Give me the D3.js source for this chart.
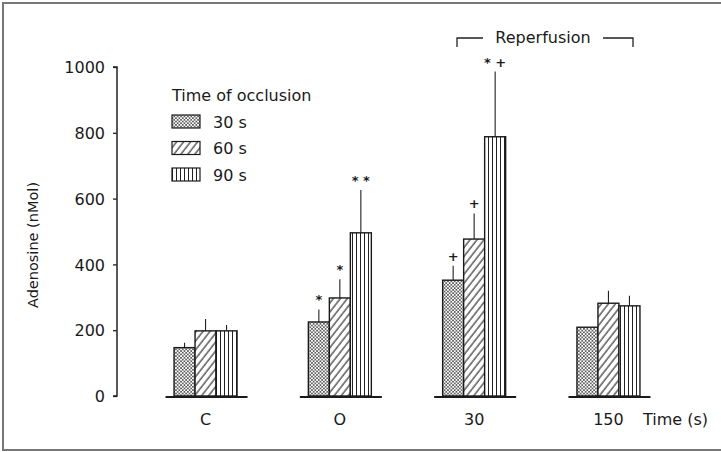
<!DOCTYPE html>
<html><head><meta charset="utf-8">
<script src="https://cdn.jsdelivr.net/npm/d3@7"></script>
<style>
html,body{margin:0;padding:0;background:#fff;}
svg{display:block;}
text{font-family:"DejaVu Sans",sans-serif;fill:#1a1a1a;}
</style></head>
<body>
<div id="chart"></div>
<script>
const categories = ["C", "O", "30", "150"];
const seriesNames = ["30 s", "60 s", "90 s"];
const values30 = [147, 225, 352, 209];
const values60 = [198, 298, 477, 282];
const values90 = [198, 496, 788, 274];
const err30 = [15, 38, 44, 0];
const err60 = [36, 57, 78, 38];
const err90 = [18, 130, 198, 31];
const marks30 = ["", "*", "+", ""];
const marks60 = ["", "*", "+", ""];
const marks90 = ["", "* *", "* +", ""];
const yTicks = [0, 200, 400, 600, 800, 1000];

const W = 721, H = 452;
const svg = d3.select("#chart").append("svg").attr("width", W).attr("height", H);
const defs = svg.append("defs");

// patterns
const pDots = defs.append("pattern").attr("id", "p0").attr("patternUnits", "userSpaceOnUse")
  .attr("width", 3.4).attr("height", 3.4);
pDots.append("rect").attr("width", 3.4).attr("height", 3.4).attr("fill", "#fff");
pDots.append("circle").attr("cx", 0.85).attr("cy", 0.85).attr("r", 0.85).attr("fill", "#2a2a2a");
pDots.append("circle").attr("cx", 2.55).attr("cy", 2.55).attr("r", 0.85).attr("fill", "#2a2a2a");

const pHatch = defs.append("pattern").attr("id", "p1").attr("patternUnits", "userSpaceOnUse")
  .attr("width", 5.5).attr("height", 10).attr("patternTransform", "rotate(38)");
pHatch.append("rect").attr("width", 5.5).attr("height", 10).attr("fill", "#fff");
pHatch.append("line").attr("x1", 1).attr("x2", 1).attr("y1", 0).attr("y2", 10)
  .attr("stroke", "#222").attr("stroke-width", 1.1);

const pVert = defs.append("pattern").attr("id", "p2").attr("patternUnits", "userSpaceOnUse")
  .attr("width", 4).attr("height", 10);
pVert.append("rect").attr("width", 4).attr("height", 10).attr("fill", "#fff");
pVert.append("line").attr("x1", 0.5).attr("x2", 0.5).attr("y1", 0).attr("y2", 10)
  .attr("stroke", "#222").attr("stroke-width", 1);

const fills = ["url(#p0)", "url(#p1)", "url(#p2)"];

// frame
svg.append("rect").attr("x", 3).attr("y", 3).attr("width", 730).attr("height", 447)
  .attr("fill", "none").attr("stroke", "#777").attr("stroke-width", 2);

// scales
const y = d3.scaleLinear().domain([0, 1000]).range([396, 67]);
const x = d3.scaleBand().domain(categories).range([138.4, 675.6]).padding(0);
const xi = d3.scaleBand().domain(seriesNames).range([0, 63]).padding(0);

// y axis
const yAxis = d3.axisLeft(y).tickValues(yTicks).tickSize(4).tickPadding(8).tickFormat(d3.format("d"));
const gy = svg.append("g").attr("transform", "translate(117,0)").call(yAxis);
gy.select(".domain").attr("stroke", "#222").attr("stroke-width", 1.5).attr("d", `M-4,${y(1000)}H0V${y(0)}H-4`);
gy.selectAll(".tick line").attr("stroke", "#222").attr("stroke-width", 1.3);
gy.selectAll(".tick text").attr("font-size", 16).attr("font-family", "DejaVu Sans").attr("fill", "#1a1a1a").attr("dy", "0.36em");

svg.append("text").attr("transform", `translate(38,245) rotate(-90)`).attr("text-anchor", "middle")
  .attr("font-size", 14.5).text("Adenosine (nMol)");

// data table
const data = [];
const vals = [values30, values60, values90], errs = [err30, err60, err90], marks = [marks30, marks60, marks90];
categories.forEach((c, i) => {
  seriesNames.forEach((s, j) => {
    data.push({cat: c, ser: s, j, v: vals[j][i], e: errs[j][i], m: marks[j][i]});
  });
});
const bx = d => x(d.cat) + x.bandwidth() / 2 - 31.5 + xi(d.ser);

// error bars
svg.append("g").selectAll("line").data(data.filter(d => d.e > 0)).join("line")
  .attr("x1", d => bx(d) + xi.bandwidth() / 2).attr("x2", d => bx(d) + xi.bandwidth() / 2)
  .attr("y1", d => y(d.v)).attr("y2", d => y(d.v + d.e))
  .attr("stroke", "#222").attr("stroke-width", 1.1);

// bars
svg.append("g").selectAll("rect").data(data).join("rect")
  .attr("x", d => bx(d)).attr("width", xi.bandwidth())
  .attr("y", d => y(d.v)).attr("height", d => y(0) - y(d.v))
  .attr("fill", d => fills[d.j]).attr("stroke", "#1a1a1a").attr("stroke-width", 1.4);

// significance marks
svg.append("g").selectAll("text").data(data.filter(d => d.m)).join("text")
  .attr("x", d => bx(d) + xi.bandwidth() / 2).attr("y", d => y(d.v + d.e) - 5)
  .attr("text-anchor", "middle").attr("font-size", 13).attr("font-weight", "bold")
  .text(d => d.m);

// group baselines
svg.append("g").selectAll("line").data(categories).join("line")
  .attr("x1", d => x(d) + x.bandwidth() / 2 - 40).attr("x2", d => x(d) + x.bandwidth() / 2 + 42)
  .attr("y1", 397).attr("y2", 397).attr("stroke", "#1a1a1a").attr("stroke-width", 2);

// category labels
svg.append("g").selectAll("text").data(categories).join("text")
  .attr("x", d => x(d) + x.bandwidth() / 2).attr("y", 425)
  .attr("text-anchor", "middle").attr("font-size", 16).text(d => d);
svg.append("text").attr("x", 643).attr("y", 425).attr("font-size", 16).text("Time (s)");

// legend
const lg = svg.append("g");
lg.append("text").attr("x", 172).attr("y", 101).attr("font-size", 16).text("Time of occlusion");
seriesNames.forEach((s, j) => {
  const yy = 115 + j * 26.5;
  lg.append("rect").attr("x", 172).attr("y", yy).attr("width", 28).attr("height", 13)
    .attr("fill", fills[j]).attr("stroke", "#1a1a1a").attr("stroke-width", 1.2);
  lg.append("text").attr("x", 213).attr("y", yy + 12.5).attr("font-size", 16).text(s);
});

// reperfusion bracket
const rg = svg.append("g");
rg.append("path").attr("d", "M457,47V38H483").attr("fill", "none").attr("stroke", "#222").attr("stroke-width", 1.3);
rg.append("path").attr("d", "M603,38H633V47").attr("fill", "none").attr("stroke", "#222").attr("stroke-width", 1.3);
rg.append("text").attr("x", 543).attr("y", 43).attr("text-anchor", "middle").attr("font-size", 16).text("Reperfusion");
</script>
</body></html>
